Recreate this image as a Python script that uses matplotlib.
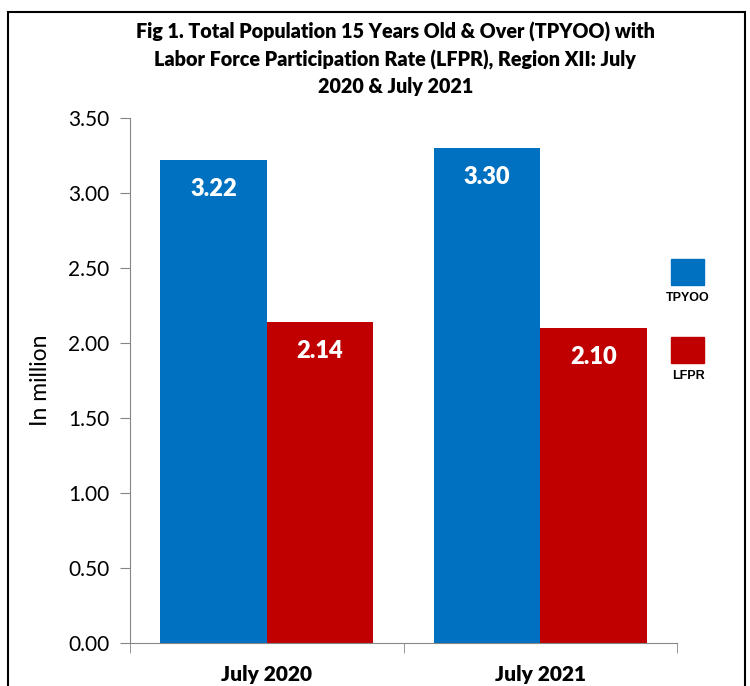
import matplotlib
matplotlib.use("Agg")
import matplotlib.pyplot as plt
from matplotlib.patches import Rectangle
import numpy as np

# --- data ---
categories = ["July 2020", "July 2021"]
series_names = ["TPYOO", "LFPR"]
tpyoo = [3.22, 3.30]
lfpr = [2.14, 2.10]
y_ticks = [0.0, 0.5, 1.0, 1.5, 2.0, 2.5, 3.0, 3.5]

COLOR_BLUE = "#0070C0"
COLOR_RED = "#C00000"
FONT = "Lato"

fig = plt.figure(figsize=(7.5, 6.86), dpi=100)
ax = fig.add_axes([130 / 750, 43 / 686, 547 / 750, 525 / 686])

x = np.arange(len(categories))
w = 0.39
ax.bar(x - w / 2, tpyoo, width=w, color=COLOR_BLUE, zorder=2)
ax.bar(x + w / 2, lfpr, width=w, color=COLOR_RED, zorder=2)

for xi, v in zip(x - w / 2, tpyoo):
    ax.text(xi, v - 0.12, f"{v:.2f}", ha="center", va="top", color="white",
            fontsize=17, fontweight="heavy", fontfamily=FONT)
for xi, v in zip(x + w / 2, lfpr):
    ax.text(xi, v - 0.12, f"{v:.2f}", ha="center", va="top", color="white",
            fontsize=17, fontweight="heavy", fontfamily=FONT)

ax.set_xlim(-0.5, len(categories) - 0.5)
ax.set_ylim(0, 3.5)
ax.set_yticks(y_ticks)
ax.set_yticklabels([f"{t:.2f}" for t in y_ticks], fontsize=15, fontfamily=FONT)
ax.set_xticks(x)
ax.set_xticklabels(categories, fontsize=15, fontweight="heavy", fontfamily=FONT)
ax.tick_params(axis="x", length=0, pad=16)
ax.tick_params(axis="y", length=7, color="#868686", pad=8)
# category boundary ticks on x axis
ax.set_xticks(np.arange(len(categories) + 1) - 0.5, minor=True)
ax.tick_params(axis="x", which="minor", length=7, color="#868686")

for s in ["top", "right"]:
    ax.spines[s].set_visible(False)
for s in ["left", "bottom"]:
    ax.spines[s].set_color("#868686")

ax.set_ylabel("In million", fontsize=16.5, fontfamily=FONT, labelpad=12)

fig.suptitle("Fig 1. Total Population 15 Years Old & Over (TPYOO) with\n"
             "Labor Force Participation Rate (LFPR), Region XII: July\n"
             "2020 & July 2021",
             x=0.527, y=0.968, fontsize=14.2, fontweight="heavy", fontfamily=FONT,
             linespacing=1.45)

# --- legend: swatches with labels underneath ---
for (name, col, top) in zip(series_names, [COLOR_BLUE, COLOR_RED], [259, 337]):
    fig.patches.append(Rectangle((671 / 750, 1 - (top + 26) / 686), 33 / 750, 26 / 686,
                                 transform=fig.transFigure, color=col))
    fig.text(688 / 750, 1 - (top + 39) / 686, name, ha="center", va="center",
             fontsize=9, fontweight="bold", fontfamily="Liberation Sans")

# outer frame
fig.patches.append(Rectangle((8 / 750, -0.02), 737 / 750, 1 - 12 / 686 + 0.02,
                             transform=fig.transFigure, fill=False,
                             edgecolor="black", lw=1.5))

fig.savefig("out.png", dpi=100)
